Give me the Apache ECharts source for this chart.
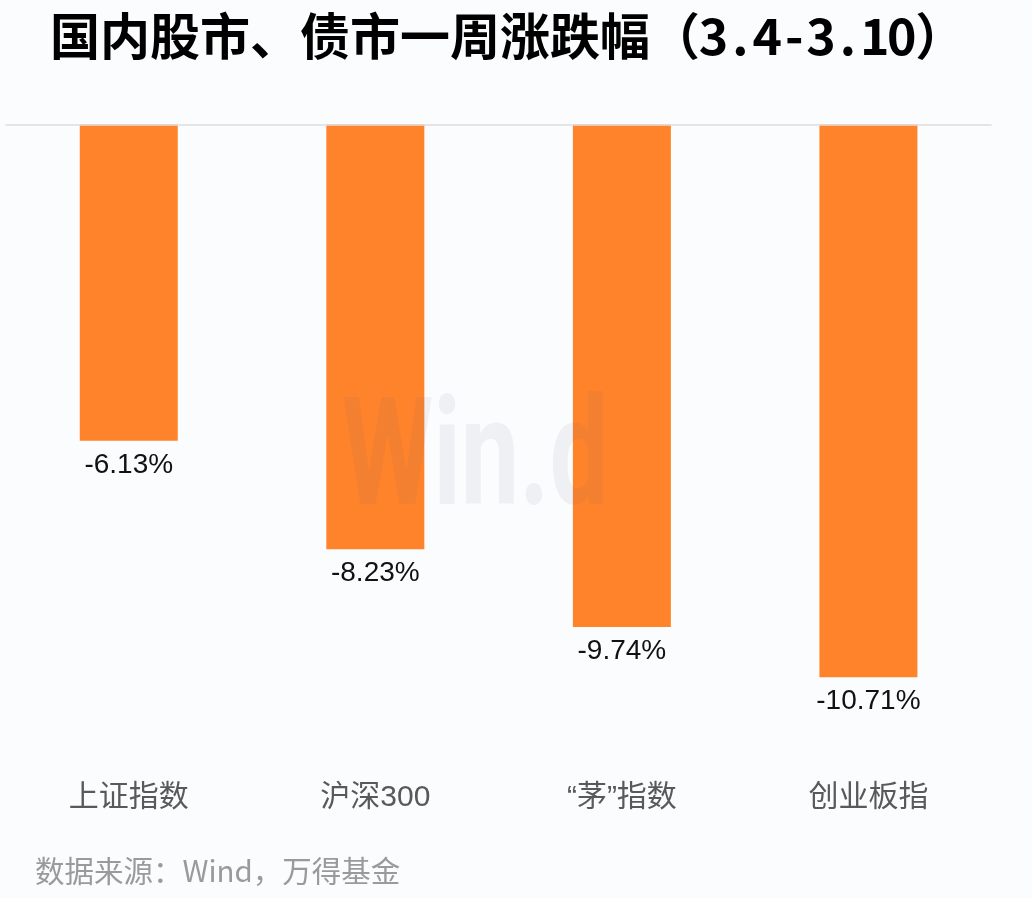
<!DOCTYPE html>
<html>
<head>
<meta charset="utf-8">
<script src="https://cdn.jsdelivr.net/npm/echarts@6/dist/echarts.min.js"></script>
<style>
html,body{margin:0;padding:0;background:#fbfcfe;}
#main{width:1032px;height:898px;}
</style>
</head>
<body>
<div id="main"></div>
<script>
var categories = ['上证指数', '沪深300', '“茅”指数', '创业板指'];
var values = [-6.13, -8.23, -9.74, -10.71];
var titleText = '国内股市、债市一周涨跌幅（3.4-3.10）';
var sourceText = '数据来源：Wind，万得基金';

// title: half-width (ASCII) characters drawn in fixed-width cells like the reference font
var richTitle = titleText.split('').map(function (c) {
  return (c.charCodeAt(0) < 128 ? '{h|' : '{c|') + c + '}';
}).join('');

var chart = echarts.init(document.getElementById('main'));
chart.setOption({
  backgroundColor: '#fbfcfe',
  animation: false,
  title: {
    text: richTitle,
    left: 50,
    top: 11,
    padding: 0,
    textStyle: {
      fontFamily: 'Noto Sans CJK SC',
      fontSize: 50,
      fontWeight: 'bold',
      color: '#000000',
      rich: {
        c: { fontFamily: 'Noto Sans CJK SC', fontSize: 50, fontWeight: 'bold', color: '#000000' },
        h: { fontFamily: 'Noto Sans CJK SC', fontSize: 50, fontWeight: 'bold', color: '#000000', width: 26.9, align: 'center' }
      }
    }
  },
  grid: {
    left: 5.5,
    right: 40.3,
    top: 124.5,
    height: 619.2,
    containLabel: false
  },
  xAxis: {
    type: 'category',
    data: categories,
    position: 'bottom',
    axisLine: { show: false },
    axisTick: { show: false },
    axisLabel: {
      margin: 39,
      fontFamily: "'Liberation Sans', 'Noto Sans CJK SC'",
      fontSize: 30,
      color: '#595959'
    }
  },
  yAxis: {
    type: 'value',
    min: -12,
    max: 0,
    show: false,
    splitLine: { show: false }
  },
  series: [{
    type: 'bar',
    data: values,
    barWidth: 98,
    itemStyle: { color: '#ff832b' },
    label: {
      show: true,
      position: 'bottom',
      distance: 10,
      formatter: function (p) { return p.value.toFixed(2) + '%'; },
      fontFamily: 'Liberation Sans',
      fontSize: 28,
      color: '#111111'
    },
    markLine: {
      silent: true,
      symbol: 'none',
      label: { show: false },
      lineStyle: { color: '#dedede', width: 1.5, type: 'solid' },
      data: [{ yAxis: 0 }]
    }
  }],
  graphic: [
    {
      type: 'text',
      left: 342,
      top: 391,
      z: 100,
      scaleX: 0.695,
      style: {
        text: 'Win.d',
        fontFamily: 'Roboto',
        fontWeight: 'bold',
        fontSize: 150,
        fill: 'rgba(100,100,115,0.08)'
      }
    },
    {
      type: 'text',
      left: 35,
      top: 856,
      style: {
        text: sourceText,
        fontFamily: 'Noto Sans CJK SC',
        fontSize: 29.5,
        fill: '#9a9a9a'
      }
    }
  ]
});
</script>
</body>
</html>
